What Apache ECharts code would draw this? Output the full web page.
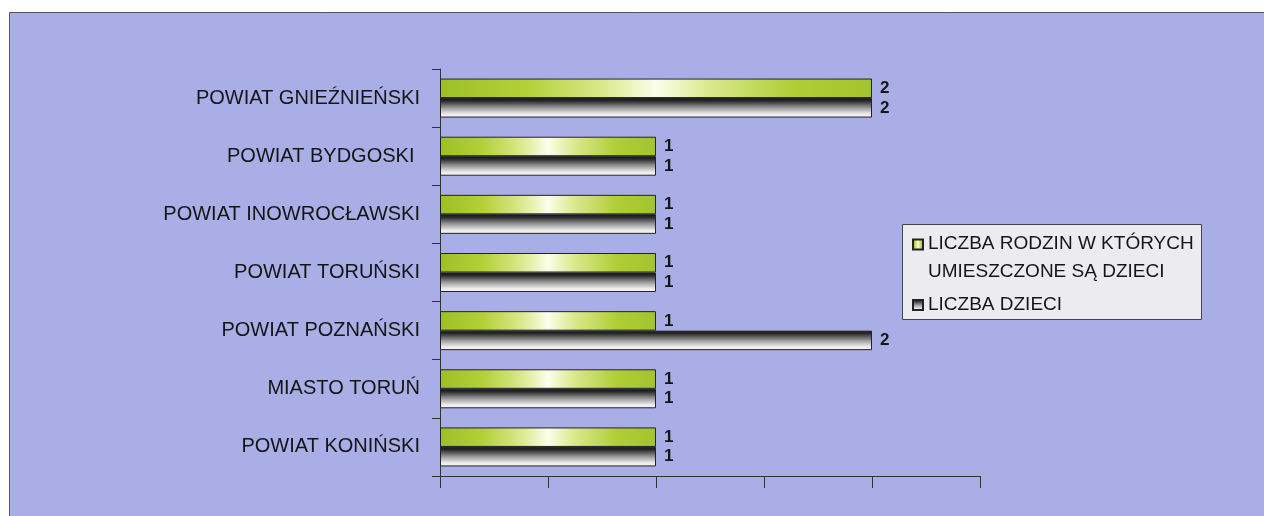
<!DOCTYPE html>
<html>
<head>
<meta charset="utf-8">
<script src="https://cdn.jsdelivr.net/npm/echarts@6/dist/echarts.min.js"></script>
<style>
html,body{margin:0;padding:0;background:#fff;}
#c{width:1264px;height:516px;}
</style>
</head>
<body>
<div id="c"></div>
<script>
const categories = ['POWIAT GNIEŹNIEŃSKI','POWIAT BYDGOSKI ','POWIAT INOWROCŁAWSKI','POWIAT TORUŃSKI','POWIAT POZNAŃSKI','MIASTO TORUŃ','POWIAT KONIŃSKI'];
const seriesNames = ['LICZBA RODZIN W KTÓRYCH UMIESZCZONE SĄ DZIECI','LICZBA DZIECI'];
const families = [2,1,1,1,1,1,1];
const children = [2,1,1,1,2,1,1];

const greenGrad = new echarts.graphic.LinearGradient(0,0,1,0,[
  {offset:0,color:'#9cbf28'},
  {offset:0.2,color:'#b4d038'},
  {offset:0.38,color:'#dbe98e'},
  {offset:0.5,color:'#fbfeea'},
  {offset:0.62,color:'#dbe98e'},
  {offset:0.82,color:'#b0cd36'},
  {offset:1,color:'#a2c42c'}
]);
const grayGrad = new echarts.graphic.LinearGradient(0,0,0,1,[
  {offset:0,color:'#111111'},
  {offset:0.15,color:'#2a2a2a'},
  {offset:0.5,color:'#9a9a9a'},
  {offset:0.82,color:'#ececec'},
  {offset:1,color:'#f6f6f6'}
]);

const chart = echarts.init(document.getElementById('c'));
const font = 'Arial, "Liberation Sans", sans-serif';
chart.setOption({
  animation:false,
  backgroundColor:'#ffffff',
  graphic:[{
    type:'rect', z:-10, silent:true,
    shape:{x:9.5,y:12.5,width:1300,height:600},
    style:{fill:'#aaaee6',stroke:'#555',lineWidth:1}
  },{
    type:'rect', z:-5, silent:true,
    shape:{x:902.5,y:224.5,width:299,height:95},
    style:{fill:'#ececf0',stroke:'#444',lineWidth:1}
  }],
  grid:{left:440,right:284,top:69,bottom:40,containLabel:false},
  xAxis:{
    type:'value',min:0,max:2.5,interval:0.5,
    axisLine:{show:true,lineStyle:{color:'#333',width:1}},
    axisTick:{show:true,length:12,lineStyle:{color:'#333'}},
    axisLabel:{show:false},
    splitLine:{show:false}
  },
  yAxis:{
    type:'category',data:categories,inverse:true,
    axisLine:{show:true,lineStyle:{color:'#333',width:1}},
    axisTick:{show:true,length:8,lineStyle:{color:'#333'}},
    axisLabel:{color:'#151515',fontSize:20,fontFamily:font,margin:20}
  },
  legend:[{
    orient:'vertical',left:907,top:225,
    itemWidth:10,itemHeight:37,itemGap:0,
    data:[{name:seriesNames[0],icon:'path://M0,0h10v10h-10z M0,37L0,37'}],
    formatter:function(){return 'LICZBA RODZIN W KTÓRYCH\nUMIESZCZONE SĄ DZIECI';},
    textStyle:{color:'#151515',fontSize:19,fontFamily:font,lineHeight:28},
    selectedMode:false
  },{
    orient:'vertical',left:907,top:286,
    itemWidth:10,itemHeight:10,itemGap:0,
    data:[{name:seriesNames[1],icon:'rect'}],
    textStyle:{color:'#151515',fontSize:19,fontFamily:font,lineHeight:28},
    selectedMode:false
  }],
  series:[{
    name:seriesNames[0],type:'bar',data:families,
    barWidth:19.5,barGap:'0%',
    itemStyle:{color:greenGrad,borderColor:'#222',borderWidth:1},
    label:{show:true,position:'right',distance:8,color:'#151515',fontWeight:'bold',fontSize:17,fontFamily:font}
  },{
    name:seriesNames[1],type:'bar',data:children,
    barWidth:19.5,barGap:'0%',
    itemStyle:{color:grayGrad,borderColor:'#222',borderWidth:1},
    label:{show:true,position:'right',distance:8,color:'#151515',fontWeight:'bold',fontSize:17,fontFamily:font}
  }]
});
</script>
</body>
</html>
